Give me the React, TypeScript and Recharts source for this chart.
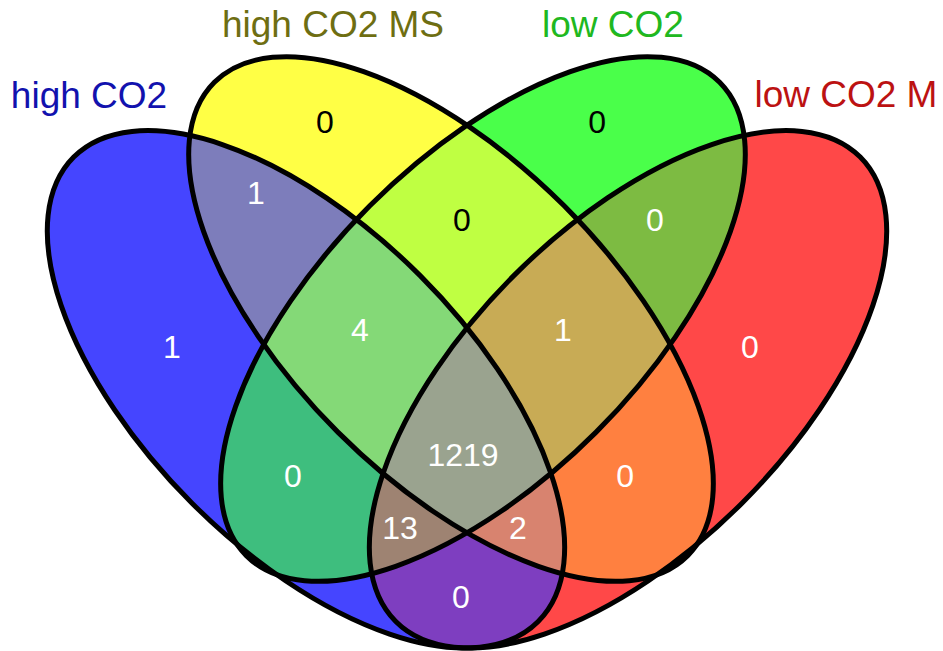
import React from 'react';
import { ScatterChart, Scatter, XAxis, YAxis } from 'recharts';

const CHART_W = 943;
const CHART_H = 651;
// venn units: 1 unit = chart height, y pointing up
const X_MAX = CHART_W / CHART_H;
const PX_PER_UNIT = CHART_H;

const setNames = ['high CO2', 'high CO2 MS', 'low CO2', 'low CO2 M'];
const setTitleColors = ['#1212AE', '#6E6E12', '#20B820', '#BC1212'];
const titleX = [0.1367, 0.5115, 0.9416, 1.2995];
const titleY = [0.8341, 0.9432, 0.9432, 0.8356];

// ellipses (centre, semi axes, rotation on screen)
const ellipseCx = [0.47, 0.6928, 0.7419, 0.9647];
const ellipseCy = [0.402, 0.51, 0.51, 0.402];
const ellipseA = [0.5045, 0.5141, 0.5141, 0.5045];
const ellipseB = [0.2475, 0.2458, 0.2458, 0.2475];
const ellipseAngle = [45, 45, -45, -45];

// regions, painted from single sets up to the four-way overlap
const regionSets = [
  [0], [1], [2], [3],
  [0, 1], [0, 2], [0, 3], [1, 2], [1, 3], [2, 3],
  [0, 1, 2], [0, 1, 3], [0, 2, 3], [1, 2, 3],
  [0, 1, 2, 3],
];
const regionCounts = [1, 0, 0, 0, 1, 0, 0, 0, 0, 0, 4, 2, 13, 1, 1219];
const regionFills = [
  '#4545FF', '#FFFF45', '#4AFF4A', '#FF4848',
  '#7D7DBB', '#3EBE7E', '#7E3EC0', '#BFFF42', '#FF8040', '#7DBB42',
  '#84D977', '#D8836F', '#9E8372', '#C8AB55',
  '#9AA38F',
];
const regionTextColors = [
  '#fff', '#000', '#000', '#fff',
  '#fff', '#fff', '#fff', '#000', '#fff', '#fff',
  '#fff', '#fff', '#fff', '#fff',
  '#fff',
];
const regionX = [0.2642, 0.4992, 0.9171, 1.1521, 0.3932, 0.4501, 0.7081, 0.7097, 0.9601, 1.0061, 0.553, 0.7957, 0.6144, 0.8648, 0.7112];
const regionY = [0.467, 0.8126, 0.8126, 0.467, 0.7035, 0.2688, 0.0829, 0.6621, 0.2688, 0.6621, 0.4931, 0.1889, 0.1889, 0.4931, 0.3011];

const ellipseData = setNames.map((name, i) => ({
  name,
  x: ellipseCx[i],
  y: ellipseCy[i],
  a: ellipseA[i],
  b: ellipseB[i],
  angle: ellipseAngle[i],
  idx: i,
}));

const regionData = regionSets.map((sets, i) => ({
  x: regionX[i],
  y: regionY[i],
  sets,
  count: regionCounts[i],
  fill: regionFills[i],
  textColor: regionTextColors[i],
}));

const titleData = setNames.map((name, i) => ({
  x: titleX[i],
  y: titleY[i],
  name,
  color: setTitleColors[i],
}));

const FONT = '"Liberation Sans", Arial, Helvetica, sans-serif';

const EllipseShape = (props: any) => {
  const { cx, cy, payload } = props;
  const rx = payload.a * PX_PER_UNIT;
  const ry = payload.b * PX_PER_UNIT;
  const tf = `rotate(${payload.angle} ${cx} ${cy})`;
  return (
    <g>
      <defs>
        <ellipse id={`venn-shape-${payload.idx}`} cx={cx} cy={cy} rx={rx} ry={ry} transform={tf} />
        <clipPath id={`venn-clip-${payload.idx}`}>
          <ellipse cx={cx} cy={cy} rx={rx} ry={ry} transform={tf} />
        </clipPath>
      </defs>
      <ellipse cx={cx} cy={cy} rx={rx} ry={ry} transform={tf} fill="none" stroke="#000" strokeWidth={5} />
    </g>
  );
};

const RegionShape = (props: any) => {
  const { payload } = props;
  const sets: number[] = payload.sets;
  let node: React.ReactNode = <use href={`#venn-shape-${sets[0]}`} fill={payload.fill} />;
  for (let k = 1; k < sets.length; k++) {
    node = <g clipPath={`url(#venn-clip-${sets[k]})`}>{node}</g>;
  }
  return <g>{node}</g>;
};

const CountShape = (props: any) => {
  const { cx, cy, payload } = props;
  return (
    <text x={cx} y={cy} textAnchor="middle" dominantBaseline="central" fontSize={32} fontFamily={FONT} fill={payload.textColor}>
      {payload.count}
    </text>
  );
};

const TitleShape = (props: any) => {
  const { cx, cy, payload } = props;
  return (
    <text x={cx} y={cy} textAnchor="middle" fontSize={37} fontFamily={FONT} fill={payload.color}>
      {payload.name}
    </text>
  );
};

export default function App() {
  return (
    <div style={{ position: 'absolute', left: 0, top: 0, background: '#fff' }}>
      <ScatterChart width={CHART_W} height={CHART_H} margin={{ top: 0, right: 0, bottom: 0, left: 0 }}>
        <XAxis type="number" dataKey="x" domain={[0, X_MAX]} allowDataOverflow hide />
        <YAxis type="number" dataKey="y" domain={[0, 1]} allowDataOverflow hide />
        <Scatter data={regionData} shape={RegionShape} isAnimationActive={false} />
        <Scatter data={ellipseData} shape={EllipseShape} isAnimationActive={false} />
        <Scatter data={regionData} shape={CountShape} isAnimationActive={false} />
        <Scatter data={titleData} shape={TitleShape} isAnimationActive={false} />
      </ScatterChart>
    </div>
  );
}
